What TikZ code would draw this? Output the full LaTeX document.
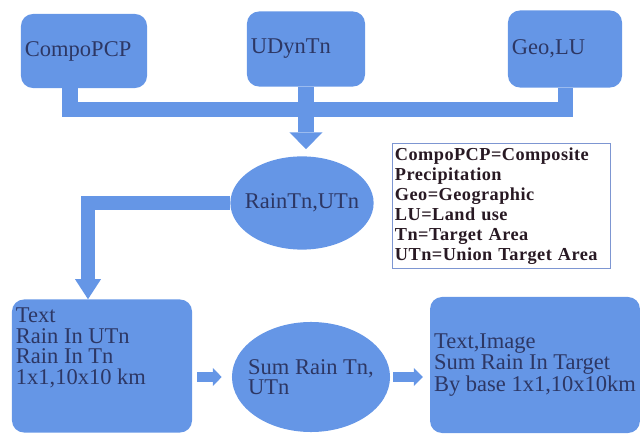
\documentclass[tikz,border=0pt]{standalone}
\usepackage{fontspec}
\setmainfont{Liberation Serif}
\usetikzlibrary{arrows.meta,shapes.geometric}

\definecolor{boxblue}{RGB}{101,150,230}
\definecolor{txtblue}{RGB}{45,55,100}
\definecolor{keytext}{RGB}{40,25,35}
\definecolor{keyline}{RGB}{125,150,210}

\begin{document}
\begin{tikzpicture}[x=0.025cm,y=-0.025cm,
    panel/.style={fill=boxblue, rounded corners=0.3cm, text=txtblue, font=\fontsize{16}{14.5}\selectfont, align=left, inner sep=0.1cm},
    blob/.style={ellipse, fill=boxblue, text=txtblue, font=\fontsize{16}{14.5}\selectfont, align=left, inner xsep=-0.2cm, inner ysep=0pt},
    bus/.style={draw=boxblue, line width=0.375cm},
    bigtip/.style={-{Triangle[width=0.83cm,length=0.42cm,line width=0pt]}},
    droptip/.style={-{Triangle[width=0.65cm,length=0.5cm,line width=0pt]}},
    hop/.style={draw=boxblue, line width=0.25cm, -{Triangle[width=0.45cm,length=0.22cm,line width=0pt]}}]
\useasboundingbox (0,0) rectangle (640,439);

% top row
\node[panel, minimum width=3.15cm, minimum height=1.85cm, text width=2.95cm] (compo) at (84,51) {CompoPCP};
\node[panel, minimum width=2.95cm, minimum height=1.875cm, text width=2.75cm] (udyn) at (306,49) {UDynTn};
\node[panel, minimum width=2.85cm, minimum height=1.925cm, text width=2.65cm] (geo) at (565,49) {Geo,LU};

% middle
\node[blob, minimum width=3.58cm, minimum height=2.33cm] (rain) at (302,203) {RainTn,UTn};
\node[draw=keyline, line width=0.6pt, minimum width=5.45cm, minimum height=3.125cm, text width=5.3cm, align=left, inner sep=0.075cm, text=keytext, font=\bfseries\fontsize{13}{14.2}\selectfont\addfontfeature{LetterSpace=2.5}] (key) at (501,206) {CompoPCP=Composite\\Precipitation\\Geo=Geographic\\LU=Land use\\Tn=Target Area\\UTn=Union Target Area};

% bottom row
\node[panel, minimum width=4.5cm, minimum height=3.325cm] (inbox) at (102,366) {\parbox[c][3.1cm][t]{4.3cm}{\raggedright\vspace*{3pt}Text\\Rain In UTn\\Rain In Tn\\1x1,10x10 km}};
\node[blob, minimum width=3.95cm, minimum height=2.75cm] (sum) at (311,377) {Sum Rain Tn,\\UTn};
\node[panel, minimum width=5.15cm, minimum height=3.4cm] (outbox) at (535,365) {Text,Image\\Sum Rain In Target\\By base 1x1,10x10km};

% connectors
\coordinate (busL) at (70,110);
\coordinate (busR) at (565,110);
\coordinate (bend) at (88,0);
\draw[bus] (compo.south -| busL) -- (busL) -- (busR) -- (geo.south -| busR);
\draw[bus, bigtip, shorten >=0.175cm] (udyn.south) -- (udyn.south |- rain.north);
\draw[bus, line width=0.35cm, droptip] (rain.west) -| (bend |- inbox.north);
\draw[hop, shorten <=0.125cm, shorten >=0.25cm] (inbox.east |- sum.west) -- (sum.west);
\draw[hop, shorten <=0.075cm, shorten >=0.175cm] (sum.east) -- (outbox.west |- sum.east);
\end{tikzpicture}
\end{document}
